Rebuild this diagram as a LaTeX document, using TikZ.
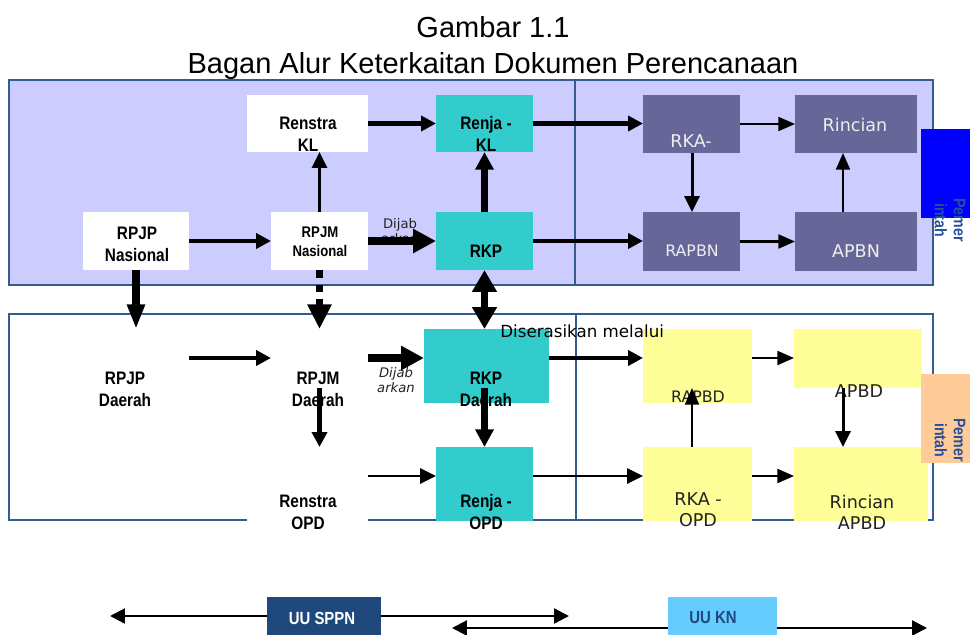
\documentclass[tikz,border=0pt]{standalone}
\usepackage{fontspec}
\setmainfont{Liberation Sans}
\newfontfamily\narrowfont[FakeStretch=0.85]{Liberation Sans}
\newfontfamily\verdfont{DejaVu Sans}
\usepackage{tikz}
\usetikzlibrary{arrows.meta}
\usetikzlibrary{calc}
\usetikzlibrary{fit}
\definecolor{panelfill}{HTML}{CCCCFF}
\definecolor{framecol}{RGB}{52,92,145}
\definecolor{tealbox}{HTML}{33CCCC}
\definecolor{slatebox}{HTML}{666699}
\definecolor{yellowbox}{HTML}{FFFF99}
\definecolor{peachbox}{HTML}{FFCC99}
\definecolor{bluebox}{HTML}{0000FF}
\definecolor{navybox}{HTML}{1F497D}
\definecolor{skybox}{HTML}{66CCFF}
\definecolor{pemercol}{RGB}{40,80,150}
\definecolor{slatetext}{HTML}{EEEEEE}
\definecolor{darktext}{HTML}{222222}
\tikzset{
  title/.style={font=\fontsize{16.5}{20}\selectfont, inner sep=0pt},
  panel/.style={draw=framecol, line width=1.1pt},
  docbox/.style={inner sep=0pt, outer sep=0pt},
  lbl/.style={font=\narrowfont\bfseries\fontsize{10.3}{12.5}\selectfont, align=center, inner sep=0pt},
  smalllbl/.style={lbl, font=\narrowfont\bfseries\fontsize{8.8}{11}\selectfont},
  vlbl/.style={font=\verdfont\fontsize{10}{12}\selectfont, align=center, inner sep=0pt},
  dijab/.style={font=\verdfont\fontsize{7.5}{9}\selectfont, text=darktext, align=center, inner sep=0pt},
  pemer/.style={font=\narrowfont\bfseries\fontsize{9.5}{10.8}\selectfont, text=pemercol, align=center, inner sep=0pt, rotate=-90},
  uulbl/.style={font=\narrowfont\bfseries\fontsize{10}{12}\selectfont, inner sep=0pt},
  arr/.style={-{Triangle[length=8.5pt,width=8.5pt]}, line width=2.3pt},
  arrthin/.style={-{Triangle[length=9.5pt,width=8pt]}, line width=1.2pt},
  arrmed/.style={-{Triangle[length=9pt,width=8.5pt]}, line width=1.7pt},
  arrheavy/.style={-{Triangle[length=10pt,width=10pt]}, line width=3.6pt},
  arrbig/.style={-{Triangle[length=13pt,width=13pt]}, line width=4.5pt},
  arrdown/.style={-{Triangle[length=14pt,width=9.5pt]}, line width=4.2pt},
  arrdash/.style={-{Triangle[length=14pt,width=13pt]}, line width=4.5pt, dash pattern=on 4.5pt off 3.8pt},
  arrboth/.style={{Triangle[length=12.5pt,width=13.5pt]}-{Triangle[length=12.5pt,width=13.5pt]}, line width=4pt},
  legarr/.style={-{Triangle[length=8.5pt,width=8.5pt]}, line width=1.3pt}
}
\begin{document}
\begin{tikzpicture}[x=0.02cm,y=-0.02cm]
\useasboundingbox (0,0) rectangle (970,635);
\node[title, anchor=base] (gambar) at (493,38) {Gambar 1.1};
\node[title, anchor=base] (judul) at (493,74) {Bagan Alur Keterkaitan Dokumen Perencanaan};

\draw[panel, fill=panelfill] (9,80) rectangle (933,285);
\draw[panel] (575,80) -- (575,285);
\draw[panel] (9,314) rectangle (933,520);
\draw[panel] (576,314) -- (576,520);

\node[docbox, fill=white, fit={(247,95) (368,152)}] (renstrakl) {};
\node[docbox, fill=tealbox, fit={(436,95) (533,152)}] (renjakl) {};
\node[docbox, fill=white, fit={(83,212) (189,270)}] (rpjpn) {};
\node[docbox, fill=white, fit={(271,212) (368,270)}] (rpjmn) {};
\node[docbox, fill=tealbox, fit={(436,212) (533,270)}] (rkp) {};
\node[docbox, fill=slatebox, fit={(643,95) (740,153)}] (rka) {};
\node[docbox, fill=slatebox, fit={(795,95) (917,153)}] (rincian) {};
\node[docbox, fill=slatebox, fit={(643,212) (740,271)}] (rapbn) {};
\node[docbox, fill=slatebox, fit={(795,212) (917,271)}] (apbn) {};
\node[docbox, fill=bluebox, fit={(921,129) (970,218)}] (pemerpusat) {};

\node[docbox, fit={(83,329) (189,388)}] (rpjpd) {};
\node[docbox, fit={(271,329) (368,388)}] (rpjmd) {};
\node[docbox, fill=tealbox, fit={(424,329) (549,403)}] (rkpd) {};
\node[docbox, fill=white, fit={(247,447) (368,522)}] (renstraopd) {};
\node[docbox, fill=tealbox, fit={(436,447) (533,521)}] (renjaopd) {};
\node[docbox, fill=yellowbox, fit={(643,329) (752,403)}] (rapbd) {};
\node[docbox, fill=yellowbox, fit={(794,329) (922,388)}] (apbd) {};
\node[docbox, fill=yellowbox, fit={(643,447) (752,521)}] (rkaopd) {};
\node[docbox, fill=yellowbox, fit={(794,447) (928,521)}] (rincianapbd) {};
\node[docbox, fill=peachbox, fit={(921,374) (970,463)}] (pemerdaerah) {};

\node[lbl] (renstrakl-t) at (308,134) {Renstra\\KL};
\node[lbl] (renjakl-t) at (486,134) {Renja -\\KL};
\node[lbl] (rpjpn-t) at (137,244) {RPJP\\Nasional};
\node[smalllbl] (rpjmn-t) at (320,242) {RPJM\\Nasional};
\node[lbl] (rkp-t) at (486,251) {RKP};
\node[vlbl, text=slatetext] (rka-t) at (691,141) {RKA-};
\node[vlbl, text=slatetext] (rincian-t) at (855,125) {Rincian};
\node[vlbl, text=slatetext, font=\verdfont\fontsize{9}{11}\selectfont] (rapbn-t) at (692,251) {RAPBN};
\node[vlbl, text=slatetext] (apbn-t) at (856,251) {APBN};
\node[pemer] (pemerpusat-t) at (950,220) {Pemer\\intah};
\node[dijab] (dijabpusat) at (400,231) {Dijab\\arkan};

\node[lbl] (rpjpd-t) at (125,389) {RPJP\\Daerah};
\node[lbl] (rpjmd-t) at (318,389) {RPJM\\Daerah};
\node[lbl] (rkpd-t) at (486,389) {RKP\\Daerah};
\node[lbl] (renstraopd-t) at (308,512) {Renstra\\OPD};
\node[lbl] (renjaopd-t) at (486,512) {Renja -\\OPD};
\node[vlbl, text=darktext, font=\verdfont\fontsize{9}{11}\selectfont] (rapbd-t) at (698,397) {RAPBD};
\node[vlbl, text=darktext] (apbd-t) at (859,391) {APBD};
\node[vlbl, text=darktext] (rkaopd-t) at (698,510) {RKA -\\OPD};
\node[vlbl, text=darktext] (rincianapbd-t) at (862,512) {Rincian\\APBD};
\node[pemer] (pemerdaerah-t) at (950,440) {Pemer\\intah};
\node[dijab, font=\verdfont\itshape\fontsize{7.5}{9}\selectfont] (dijabdaerah) at (396,380) {Dijab\\arkan};

\coordinate (rowc) at (0,358);
\coordinate (rowd) at (0,476);
\coordinate (colm) at (692,0);
\coordinate (colr) at (843,0);

\draw[arr] (renstrakl) -- (renjakl);
\draw[arrmed] (rpjmn.north) -- (rpjmn.north |- renstrakl.south);
\draw[arr] (rpjpn) -- (rpjmn);
\draw[arrbig] (rpjmn) -- (rkp);
\draw[arrheavy] (rkp.north) -- (rkp.north |- renjakl.south);
\draw[arr] (renjakl.east) -- (renjakl.east -| rka.west);
\draw[arr] (rkp.east) -- (rkp.east -| rapbn.west);
\draw[arrthin] (rka) -- (rincian);
\draw[arrmed] (rka.south -| colm) -- (rapbn.north -| colm);
\draw[arrthin] (rapbn) -- (apbn);
\draw[arrthin] (apbn.north -| colr) -- (rincian.south -| colr);

\draw[arrdown] (rpjpn) -- (rpjpd);
\draw[arrdash] (rpjmn) -- (rpjmd);
\draw[arrboth] (rkp.south) -- (rkp.south |- rkpd.north);

\draw[arr] (rpjpd.east |- rowc) -- (rpjmd.west |- rowc);
\draw[arrbig] (rpjmd.east |- rowc) -- (rkpd.west |- rowc);
\draw[arr] (rkpd.east |- rowc) -- (rapbd.west |- rowc);
\draw[arrthin] (rapbd.east |- rowc) -- (apbd.west |- rowc);
\draw[arr] (rpjmd.south) -- (rpjmd.south |- renstraopd.north);
\draw[arrheavy] ($(renjaopd.north |- rkpd.south)+(0,-15)$) -- (renjaopd.north);
\draw[arrmed] (renstraopd.east |- rowd) -- (renjaopd.west |- rowd);
\draw[arrmed] (renjaopd.east |- rowd) -- (rkaopd.west |- rowd);
\draw[arrthin] (rkaopd.east |- rowd) -- (rincianapbd.west |- rowd);
\draw[arrthin] (rkaopd.north -| colm) -- ($(rapbd.south -| colm)+(0,-15)$);
\draw[arrmed] (apbd.south -| colr) -- (rincianapbd.north -| colr);

\node[vlbl, font=\verdfont\fontsize{9.5}{11}\selectfont, anchor=base west] (serasi) at (500,337) {Diserasikan melalui};

\node[docbox, fill=navybox, fit={(267,597) (381,635)}] (uusppn) {};
\node[uulbl, text=white] (uusppn-t) at (322,618) {UU SPPN};
\node[docbox, fill=skybox, fit={(668,597) (777,635)}] (uukn) {};
\node[uulbl, text=navybox] (uukn-t) at (713,618) {UU KN};
\coordinate (sppnkiri) at (110,616);
\coordinate (sppnkanan) at (569,616);
\coordinate (knkiri) at (452,628);
\coordinate (knkanan) at (927,628);
\draw[legarr] (uusppn.west) -- (sppnkiri);
\draw[legarr] (uusppn.east) -- (sppnkanan);
\draw[legarr] (uukn.west |- knkiri) -- (knkiri);
\draw[legarr] (uukn.east |- knkanan) -- (knkanan);
\end{tikzpicture}
\end{document}
